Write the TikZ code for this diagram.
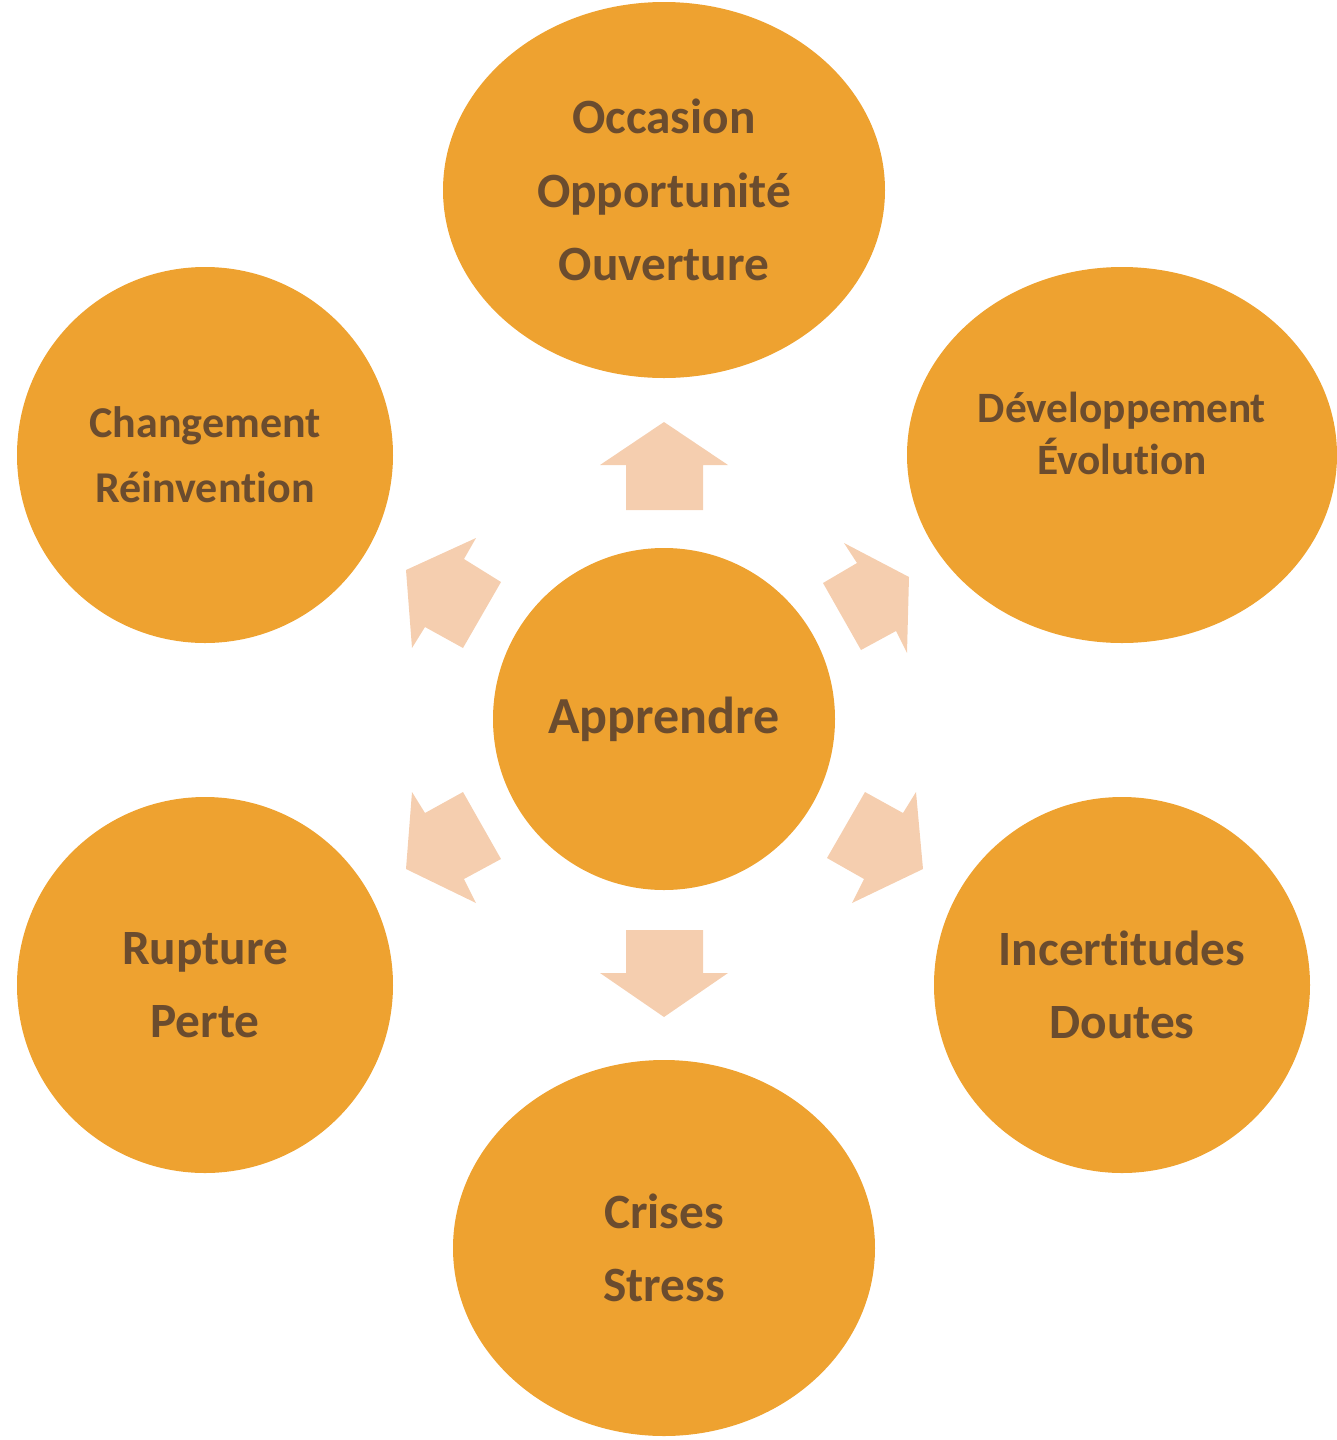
\documentclass[tikz,border=0pt]{standalone}
\usepackage{fontspec}
\setmainfont{Carlito}[Ligatures={NoCommon}]
\usetikzlibrary{shapes.geometric}
\definecolor{orangefill}{HTML}{EEA230}
\definecolor{browntext}{HTML}{6B4C2E}
\definecolor{arrowfill}{HTML}{F5CEAF}
\tikzset{
  bubble/.style={ellipse, fill=orangefill, inner sep=0pt, text=browntext, align=center, font=\bfseries},
  bigtext/.style={font=\bfseries\fontsize{37}{55}\selectfont},
  midtext/.style={font=\bfseries\fontsize{33}{49}\selectfont},
  smalltext/.style={font=\bfseries\fontsize{32.5}{39}\selectfont},
  centertext/.style={font=\bfseries\fontsize{39}{55}\selectfont},
  blockarrow/.style={fill=arrowfill},
}
\begin{document}
\begin{tikzpicture}[x=0.75pt,y=-0.75pt]
\useasboundingbox (0,0) rectangle (1337,1440);
% bubbles
\node[bubble, bigtext, minimum width=331.5pt, minimum height=282pt] (top) at (664,190) {Occasion\\Opportunité\\Ouverture};
\node[bubble, midtext, minimum width=282pt, minimum height=282pt] (ul) at (205,455) {Changement\\Réinvention};
\node[bubble, minimum width=322.5pt, minimum height=282pt] (ur) at (1122,455) {};
\node[smalltext, text=browntext, align=center] (urtext) at (1122,433) {Développement\\Évolution};
\node[bubble, centertext, minimum width=256.5pt, minimum height=256.5pt] (center) at (664,719) {Apprendre};
\node[bubble, bigtext, minimum width=282pt, minimum height=282pt] (ll) at (205,985) {Rupture\\Perte};
\node[bubble, bigtext, minimum width=282pt, minimum height=282pt] (lr) at (1122,985) {Incertitudes\\Doutes};
\node[bubble, bigtext, minimum width=316.5pt, minimum height=282pt] (bot) at (664,1248) {Crises\\Stress};
% block arrows
\fill[blockarrow] (664,422) -- (728,465) -- (703,465) -- (703,510) -- (626,510) -- (626,465) -- (600,465) -- cycle;
\fill[blockarrow] (664,1017) -- (728,973) -- (703,973) -- (703,930) -- (626,930) -- (626,973) -- (600,973) -- cycle;
\fill[blockarrow] (844,543) -- (909,577) -- (907,653) -- (896,631) -- (861,650) -- (823,583) -- (857,563) -- cycle;
\fill[blockarrow] (865,792) -- (903,813) -- (916,792) -- (923,869) -- (852,903) -- (864,879) -- (827,858) -- cycle;
\fill[blockarrow] (476,538) -- (464,559) -- (501,582) -- (463,648) -- (425,627) -- (412,648) -- (406,570) -- cycle;
\fill[blockarrow] (412,792) -- (425,813) -- (463,792) -- (501,859) -- (464,879) -- (476,903) -- (406,869) -- cycle;
\end{tikzpicture}
\end{document}
